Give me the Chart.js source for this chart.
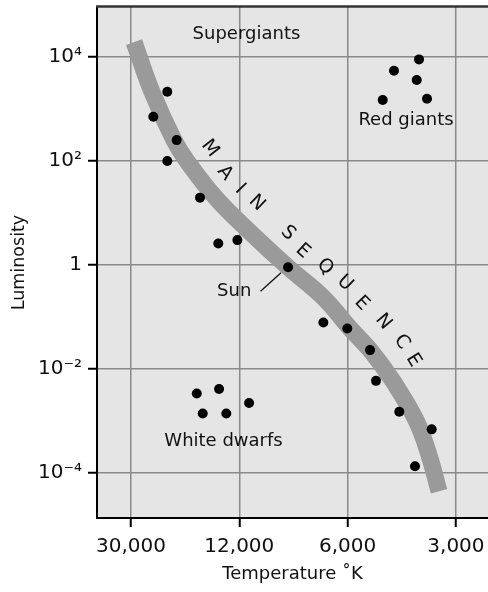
<!DOCTYPE html>
<html><head><meta charset="utf-8">
<script src="https://cdn.jsdelivr.net/npm/chart.js@4"></script>
<style>html,body{margin:0;padding:0;background:#fff;}canvas{display:block}</style>
</head><body>
<canvas id="c" width="488" height="592"></canvas>
<script>
// x axis: position along the temperature scale (0 = 30,000 K, 1 = 12,000 K, 2 = 6,000 K, 3 = 3,000 K)
const tempLabels = ['30,000', '12,000', '6,000', '3,000'];
const lumTicks = [1e-4, 1e-2, 1, 1e2, 1e4];
const lumTickLabels = ['10⁻⁴', '10⁻²', '1', '10²', '10⁴'];

// main-sequence band (centre line)
const bandPos = [0.028, 0.194, 0.397, 0.517, 0.785, 1.099, 1.450, 1.773, 2.022, 2.225, 2.419, 2.632, 2.752, 2.844];
const bandLum = [19190, 2096, 250, 98.6, 19.2, 4.26, 0.90, 0.239, 0.0605, 0.0209, 0.0058, 0.00103, 0.000219, 0.0000445];

// main-sequence stars
const msPos = [0.335, 0.206, 0.422, 0.335, 0.637, 0.806, 0.982, 1.450, 1.776, 1.997, 2.207, 2.262, 2.477, 2.776, 2.622];
const msLum = [2120, 700, 250, 99, 19.6, 2.58, 2.99, 0.90, 0.078, 0.060, 0.023, 0.0059, 0.0015, 0.00069, 0.000135];

// red giants
const giantPos = [2.659, 2.428, 2.638, 2.324, 2.733];
const giantLum = [8900, 5380, 3560, 1470, 1560];

// white dwarfs
const dwarfPos = [0.607, 0.813, 0.662, 0.880, 1.090];
const dwarfLum = [0.00337, 0.0041, 0.00139, 0.00139, 0.00222];

// region labels
const annoText = ['Supergiants', 'Red giants', 'White dwarfs', 'Sun'];
const annoPos = [1.066, 2.539, 0.854, 0.953];
const annoLum = [27350, 593, 0.000407, 0.305];

// Sun leader line
const sunLinePos = [1.196, 1.385];
const sunLineLum = [0.310, 0.705];

// "MAIN SEQUENCE" letters along the band
const seqLetters = ['M', 'A', 'I', 'N', 'S', 'E', 'Q', 'U', 'E', 'N', 'C', 'E'];
const seqPos = [0.7295, 0.868, 1.0065, 1.1607, 1.4497, 1.5854, 1.7913, 1.976, 2.1302, 2.3296, 2.4995, 2.6066];
const seqLum = [173.2, 58.0, 28.6, 15.37, 4.07, 1.834, 0.915, 0.4446, 0.1811, 0.0802, 0.0330, 0.0147];
const seqAngle = [52, 50, 46, 44, 44, 42, 41, 43, 46, 50, 54, 58];

const FONT = "'DejaVu Sans', sans-serif";
const pts = (xs, ys) => xs.map((x, i) => ({x: x, y: ys[i]}));

const hrPlugin = {
  id: 'hr',
  beforeDraw(chart) {
    const {ctx, chartArea: a} = chart;
    ctx.save();
    ctx.fillStyle = '#e5e5e5';
    ctx.fillRect(a.left, a.top, a.right - a.left, a.bottom - a.top);
    ctx.restore();
  },
  afterDatasetsDraw(chart) {
    const {ctx, chartArea: a} = chart;
    const sx = chart.scales.x, sy = chart.scales.y;
    ctx.save();
    ctx.fillStyle = '#111';
    ctx.font = '18px ' + FONT;
    ctx.textAlign = 'center';
    ctx.textBaseline = 'middle';
    annoText.forEach((t, i) => {
      ctx.fillText(t, sx.getPixelForValue(annoPos[i]), sy.getPixelForValue(annoLum[i]));
    });
    // Sun leader
    ctx.strokeStyle = '#111';
    ctx.lineWidth = 1.3;
    ctx.beginPath();
    ctx.moveTo(sx.getPixelForValue(sunLinePos[0]), sy.getPixelForValue(sunLineLum[0]));
    ctx.lineTo(sx.getPixelForValue(sunLinePos[1]), sy.getPixelForValue(sunLineLum[1]));
    ctx.stroke();
    // MAIN SEQUENCE
    ctx.font = '19px ' + FONT;
    seqLetters.forEach((l, i) => {
      ctx.save();
      ctx.translate(sx.getPixelForValue(seqPos[i]), sy.getPixelForValue(seqLum[i]));
      ctx.rotate(seqAngle[i] * Math.PI / 180);
      ctx.fillText(l, 0, 0);
      ctx.restore();
    });
    // top frame
    ctx.strokeStyle = '#333';
    ctx.lineWidth = 2.5;
    ctx.beginPath();
    ctx.moveTo(a.left - 1, a.top - 0.5);
    ctx.lineTo(a.right, a.top - 0.5);
    ctx.stroke();
    ctx.restore();
  }
};

new Chart(document.getElementById('c'), {
  type: 'scatter',
  data: {
    datasets: [
      {type: 'line', data: pts(bandPos, bandLum), borderColor: '#9a9a9a', borderWidth: 17,
       pointRadius: 0, tension: 0.4, borderCapStyle: 'butt', fill: false, order: 2},
      {data: pts(msPos, msLum), backgroundColor: '#000', pointRadius: 5, borderWidth: 0, order: 1},
      {data: pts(giantPos, giantLum), backgroundColor: '#000', pointRadius: 5, borderWidth: 0, order: 1},
      {data: pts(dwarfPos, dwarfLum), backgroundColor: '#000', pointRadius: 5, borderWidth: 0, order: 1}
    ]
  },
  options: {
    responsive: false,
    animation: false,
    devicePixelRatio: 1,
    layout: {autoPadding: false, padding: {top: 7, right: 0, left: 0, bottom: 0}},
    plugins: {legend: {display: false}, tooltip: {enabled: false}},
    scales: {
      x: {
        type: 'linear', min: -0.314, max: 3.296,
        afterBuildTicks: s => { s.ticks = tempLabels.map((t, i) => ({value: i})); },
        afterFit: s => { s.height = 74; s.paddingLeft = 0; s.paddingRight = 0; },
        ticks: {callback: v => tempLabels[v], font: {family: FONT, size: 20}, color: '#111', padding: 8, maxRotation: 0, autoSkip: false},
        grid: {color: '#8a8a8a', lineWidth: 1.5, tickColor: '#000', tickLength: 9, tickWidth: 2},
        border: {color: '#000', width: 2},
        title: {display: true, text: 'Temperature ˚K', font: {family: FONT, size: 18}, color: '#111', padding: {top: 0, bottom: 7}}
      },
      y: {
        type: 'logarithmic', min: Math.pow(10, -4.865), max: Math.pow(10, 4.956),
        afterBuildTicks: s => { s.ticks = lumTicks.map(v => ({value: v})); },
        afterFit: s => { s.width = 97; s.paddingTop = 0; s.paddingBottom = 0; },
        ticks: {
          callback: v => { const i = lumTicks.findIndex(t => Math.abs(Math.log10(t) - Math.log10(v)) < 1e-6); return i >= 0 ? lumTickLabels[i] : ''; },
          font: {family: FONT, size: 20}, color: '#111', padding: 6, autoSkip: false
        },
        grid: {color: '#8a8a8a', lineWidth: 1.5, tickColor: '#000', tickLength: 9, tickWidth: 2},
        border: {color: '#000', width: 2},
        title: {display: true, text: 'Luminosity', font: {family: FONT, size: 17.5}, color: '#111', padding: {top: 9, bottom: 0}}
      }
    }
  },
  plugins: [hrPlugin]
});
</script>
</body></html>
